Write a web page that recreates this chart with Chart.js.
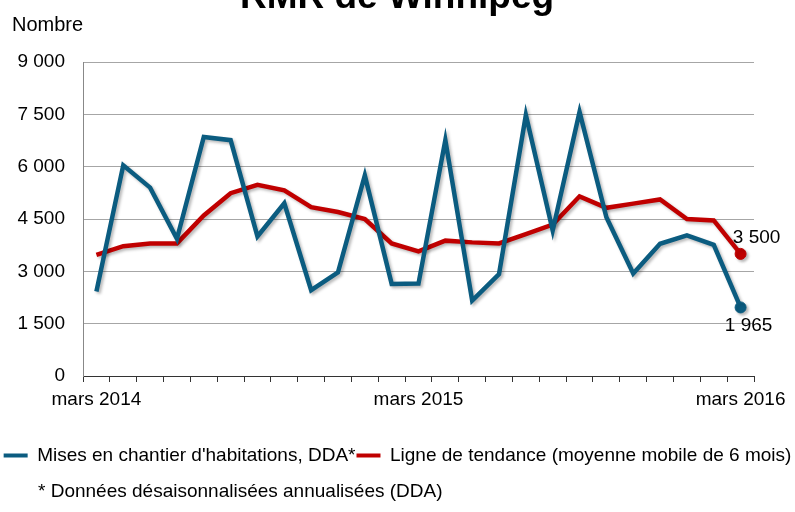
<!DOCTYPE html>
<html lang="fr">
<head>
<meta charset="utf-8">
<title>RMR de Winnipeg</title>
<script src="https://cdn.jsdelivr.net/npm/chart.js@4.4.1/dist/chart.umd.min.js"></script>
<style>
  html, body { margin: 0; padding: 0; background: #fff; }
  #wrap { width: 795px; height: 512px; position: relative; overflow: hidden; }
</style>
</head>
<body>
<div id="wrap"><canvas id="chart" width="795" height="512"></canvas></div>
<script>
const titleText = "RMR de Winnipeg";
const yTitle = "Nombre";
const footnote = "* Données désaisonnalisées annualisées (DDA)";

const months = [
  "mars 2014", "avr. 2014", "mai 2014", "juin 2014", "juil. 2014", "août 2014",
  "sept. 2014", "oct. 2014", "nov. 2014", "déc. 2014", "janv. 2015", "févr. 2015",
  "mars 2015", "avr. 2015", "mai 2015", "juin 2015", "juil. 2015", "août 2015",
  "sept. 2015", "oct. 2015", "nov. 2015", "déc. 2015", "janv. 2016", "févr. 2016",
  "mars 2016"
];

const starts = [2420, 6040, 5400, 3930, 6850, 6760, 4000, 4950, 2460, 2970, 5750, 2640,
  2650, 6760, 2160, 2920, 7480, 4170, 7570, 4550, 2940, 3790, 4030, 3760, 1965];

const trend = [3470, 3720, 3800, 3800, 4600, 5240, 5480, 5320, 4840, 4700, 4500, 3800,
  3570, 3880, 3830, 3800, 4070, 4340, 5150, 4820, 4940, 5060, 4500, 4460, 3500];

const seriesNames = ["Mises en chantier d'habitations, DDA*", "Ligne de tendance (moyenne mobile de 6 mois)"];
const yTicks = [0, 1500, 3000, 4500, 6000, 7500, 9000];

const BLUE = "#0b5c80";
const RED = "#c00000";
const FONT = "'Liberation Sans', Arial, sans-serif";

function fmt(n) {
  return String(n).replace(/\B(?=(\d{3})+(?!\d))/g, " ");
}

// only the last point gets a marker
function lastOnly(arr, r) {
  return arr.map((_, i) => (i === arr.length - 1 ? r : 0));
}

const shadow = {
  id: "shadow",
  beforeDatasetDraw(chart) {
    const ctx = chart.ctx;
    ctx.save();
    ctx.shadowColor = "rgba(0,0,0,0.28)";
    ctx.shadowBlur = 3;
    ctx.shadowOffsetX = 2;
    ctx.shadowOffsetY = 2;
  },
  afterDatasetDraw(chart) {
    chart.ctx.restore();
  }
};

const texts = {
  id: "texts",
  afterDraw(chart) {
    const ctx = chart.ctx;
    ctx.save();
    ctx.fillStyle = "#000";
    ctx.textBaseline = "alphabetic";

    ctx.font = "bold 37px " + FONT;
    ctx.textAlign = "center";
    ctx.fillText(titleText, 397, 8);

    ctx.font = "20px " + FONT;
    ctx.textAlign = "left";
    ctx.fillText(yTitle, 12, 31);

    ctx.font = "19px " + FONT;
    ctx.fillText(footnote, 38, 497);

    // end-of-series value labels
    const offs = [[8, 24], [16, -11]];
    ctx.textAlign = "center";
    chart.data.datasets.forEach((ds, i) => {
      const pts = chart.getDatasetMeta(i).data;
      const p = pts[pts.length - 1];
      ctx.fillText(fmt(ds.data[ds.data.length - 1]), p.x + offs[i][0], p.y + offs[i][1]);
    });
    ctx.restore();
  }
};

new Chart(document.getElementById("chart"), {
  type: "line",
  data: {
    labels: months,
    datasets: [
      {
        label: seriesNames[0],
        data: starts,
        borderColor: BLUE,
        backgroundColor: BLUE,
        borderWidth: 4.5,
        tension: 0,
        pointRadius: lastOnly(starts, 5.5),
        pointBackgroundColor: BLUE,
        pointBorderColor: BLUE,
        pointBorderWidth: 1
      },
      {
        label: seriesNames[1],
        data: trend,
        borderColor: RED,
        backgroundColor: RED,
        borderWidth: 4.5,
        tension: 0,
        pointRadius: lastOnly(trend, 5.5),
        pointBackgroundColor: RED,
        pointBorderColor: RED,
        pointBorderWidth: 1
      }
    ]
  },
  options: {
    responsive: false,
    animation: false,
    layout: { padding: { top: 62, left: 0, right: 0, bottom: 37 } },
    plugins: {
      tooltip: { enabled: false },
      title: { display: false },
      legend: {
        position: "bottom",
        labels: {
          font: { family: FONT, size: 19 },
          color: "#000",
          boxWidth: 24,
          boxHeight: 4,
          padding: 1,
          generateLabels(chart) {
            return chart.data.datasets.map((ds, i) => ({
              text: ds.label,
              fillStyle: ds.borderColor,
              strokeStyle: ds.borderColor,
              lineWidth: 0,
              hidden: false,
              datasetIndex: i
            }));
          }
        }
      }
    },
    scales: {
      x: {
        offset: true,
        grid: { offset: true, drawOnChartArea: false, drawTicks: true, tickLength: 6, color: "#333" },
        border: { color: "#333", width: 1 },
        ticks: {
          autoSkip: false,
          maxRotation: 0,
          padding: 6,
          color: "#000",
          font: { family: FONT, size: 19 },
          callback(v, i) { return i % 12 === 0 ? this.getLabelForValue(v) : ""; }
        },
        afterFit(s) { s.height = 69; }
      },
      y: {
        min: 0,
        max: 9000,
        afterBuildTicks(s) { s.ticks = yTicks.map(v => ({ value: v })); },
        grid: { color: "#a6a6a6", drawTicks: false },
        border: { color: "#888" },
        ticks: {
          padding: 18,
          color: "#000",
          font: { family: FONT, size: 19 },
          callback: v => fmt(v)
        },
        afterFit(s) { s.width = 83; }
      },
      // empty axis used only to keep the plot's right margin
      yR: {
        axis: "y",
        position: "right",
        grid: { display: false },
        border: { display: false },
        ticks: { display: false },
        afterFit(s) { s.width = 41; }
      }
    }
  },
  plugins: [shadow, texts]
});
</script>
</body>
</html>
